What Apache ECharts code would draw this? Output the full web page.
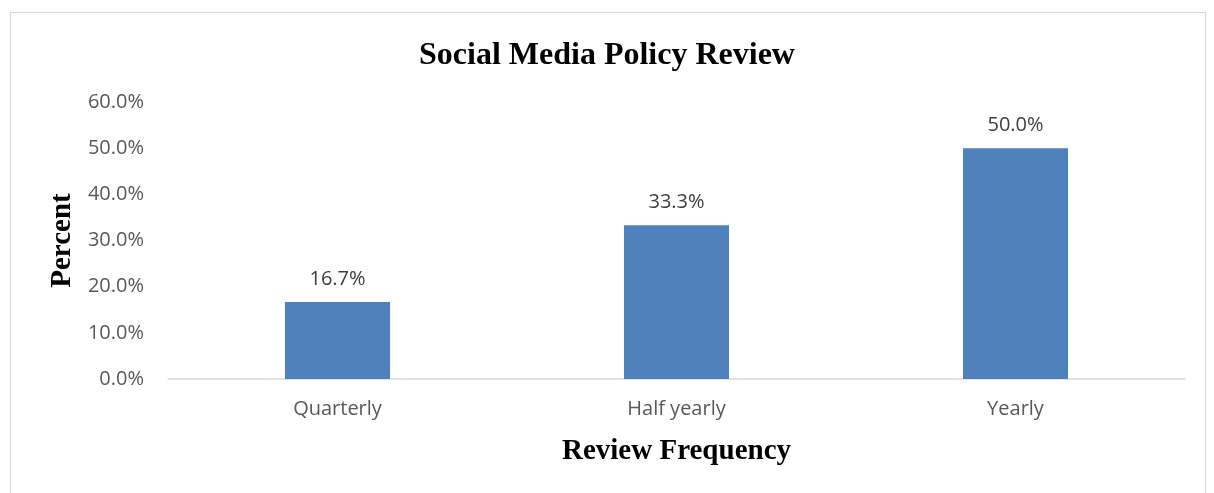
<!DOCTYPE html>
<html>
<head>
<meta charset="utf-8">
<script src="https://cdn.jsdelivr.net/npm/echarts@6/dist/echarts.min.js"></script>
<style>
  html, body { margin: 0; padding: 0; background: #fff; }
  #frame { position: absolute; left: 10px; top: 12px; width: 1196px; height: 490px; border: 1px solid #d9d9d9; box-sizing: border-box; }
  #chart { position: absolute; left: 0; top: 0; width: 1214px; height: 493px; }
</style>
</head>
<body>
<div id="frame"></div>
<div id="chart"></div>
<script>
// Review frequency of the social media policy (percent of respondents)
const categories = ['Quarterly', 'Half yearly', 'Yearly'];
const percentValues = [16.7, 33.3, 50.0];
const yTicks = [0, 10, 20, 30, 40, 50, 60];

const chart = echarts.init(document.getElementById('chart'), null, { renderer: 'canvas' });
const labelFont = '"Open Sans", "Noto Sans", sans-serif';
const serifFont = '"Liberation Serif", "Times New Roman", serif';

chart.setOption({
  animation: false,
  title: {
    text: 'Social Media Policy Review',
    left: 'center',
    top: 35,
    textStyle: { fontFamily: serifFont, fontWeight: 'bold', fontSize: 32, color: '#000' }
  },
  grid: { left: 168, right: 29, top: 102, bottom: 114 },
  xAxis: {
    type: 'category',
    data: categories,
    name: 'Review Frequency',
    nameLocation: 'middle',
    nameGap: 58,
    nameTextStyle: { fontFamily: serifFont, fontWeight: 'bold', fontSize: 29, color: '#000' },
    axisLine: { lineStyle: { color: '#d9d9d9', width: 1.5 } },
    axisTick: { show: false },
    axisLabel: { fontFamily: labelFont, fontSize: 20, color: '#595959', margin: 20 }
  },
  yAxis: {
    type: 'value',
    min: yTicks[0],
    max: yTicks[yTicks.length - 1],
    interval: 10,
    name: 'Percent',
    nameLocation: 'middle',
    nameGap: 90,
    nameRotate: 90,
    nameTextStyle: { fontFamily: serifFont, fontWeight: 'bold', fontSize: 29, color: '#000' },
    splitLine: { show: false },
    axisLine: { show: false },
    axisTick: { show: false },
    axisLabel: {
      fontFamily: labelFont, fontSize: 20, color: '#595959', margin: 24,
      formatter: v => v.toFixed(1) + '%'
    }
  },
  series: [{
    type: 'bar',
    data: percentValues,
    barWidth: '31%',
    itemStyle: { color: '#4F81BD' },
    label: {
      show: true,
      position: 'top',
      distance: 13,
      fontFamily: labelFont,
      fontSize: 20,
      color: '#404040',
      formatter: p => p.value.toFixed(1) + '%'
    }
  }]
});
</script>
</body>
</html>
